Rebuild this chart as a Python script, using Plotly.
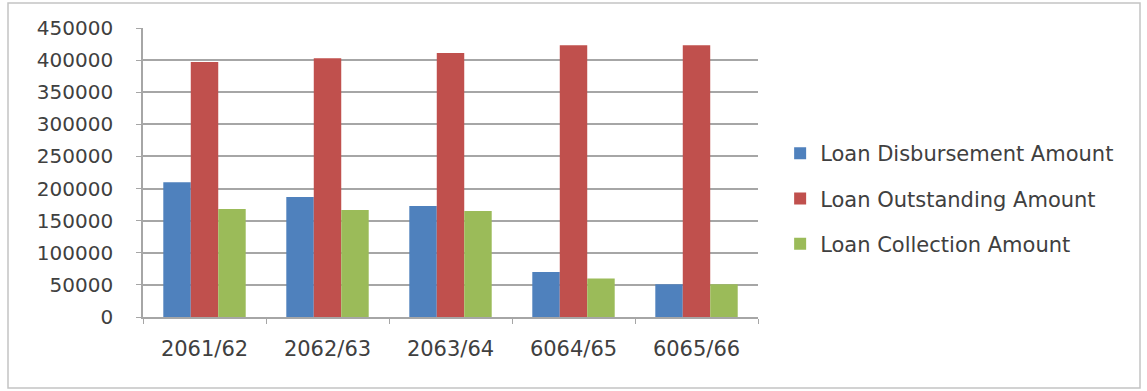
import plotly.graph_objects as go

# Fiscal years and loan amounts
years = ["2061/62", "2062/63", "2063/64", "6064/65", "6065/66"]
disbursement = [210000, 187000, 173000, 70000, 51000]
outstanding = [397000, 403000, 411000, 423000, 423000]
collection = [168000, 166500, 165000, 60000, 51000]

series_names = ["Loan Disbursement Amount", "Loan Outstanding Amount", "Loan Collection Amount"]
colors = ["#4F81BD", "#C0504D", "#9BBB59"]

fig = go.Figure()
for i, (name, vals, col) in enumerate(zip(series_names, [disbursement, outstanding, collection], colors)):
    fig.add_trace(go.Bar(x=years, y=vals, name=name, legendgroup=f"g{i}",
                         marker=dict(color=col, line=dict(width=0))))

font_family = "DejaVu Sans"
text_col = "#404040"
grid_col = "#a6a6a6"

fig.update_layout(
    width=1147, height=391,
    margin=dict(l=143, r=389, t=28, b=74),
    paper_bgcolor="white", plot_bgcolor="white",
    barmode="group", bargap=0.33, bargroupgap=0,
    font=dict(family=font_family, size=18, color=text_col),
    showlegend=True,
    legend=dict(x=1.036, xanchor="left", y=0.41, yanchor="middle",
                font=dict(family=font_family, size=21, color=text_col),
                traceorder="grouped", tracegroupgap=15,
                itemwidth=30, bgcolor="rgba(0,0,0,0)"),
    xaxis=dict(
        type="category", showline=True, linecolor=grid_col, linewidth=1.5,
        ticks="outside", tickson="boundaries", ticklen=5, tickcolor=grid_col,
        ticklabelstandoff=12,
        tickfont=dict(family=font_family, size=21, color=text_col),
        showgrid=False, zeroline=False,
    ),
    yaxis=dict(
        range=[0, 450000], tickvals=list(range(0, 450001, 50000)),
        ticktext=[str(v) + "\u00a0\u00a0\u00a0" for v in range(0, 450001, 50000)],
        showline=True, linecolor=grid_col, linewidth=1.5,
        ticks="outside", ticklen=5, tickcolor=grid_col,
        showgrid=True, gridcolor=grid_col, gridwidth=1.5, zeroline=False,
        tickfont=dict(family=font_family, size=20, color=text_col),
    ),
)

# Outer chart border
fig.add_shape(type="rect", xref="paper", yref="paper",
              x0=-135 / 615, x1=997 / 615, y0=-71 / 289, y1=314 / 289,
              line=dict(color="#c4c4c4", width=1.5), fillcolor="rgba(0,0,0,0)", layer="below")

fig.write_html("out.html")
